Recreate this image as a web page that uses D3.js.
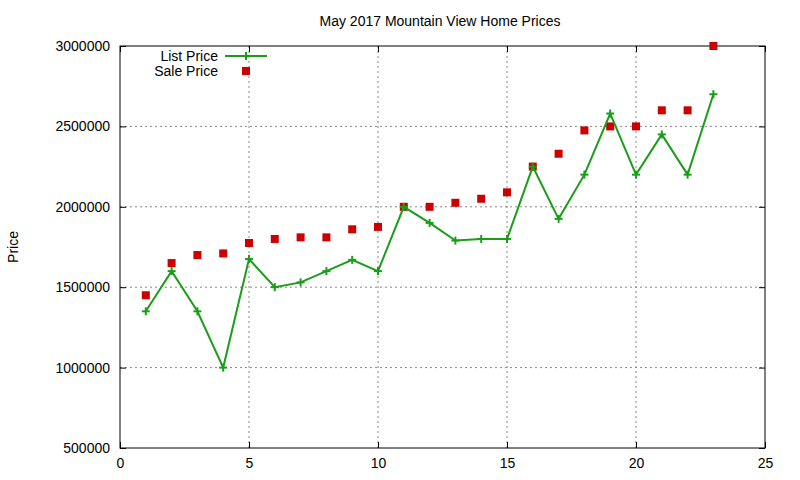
<!DOCTYPE html>
<html><head><meta charset="utf-8">
<script src="https://cdn.jsdelivr.net/npm/d3@7"></script>
<style>body{margin:0;background:#fff}text{font-family:"Liberation Sans",Arial,sans-serif;font-size:14px;fill:#000}</style>
</head><body><svg id="chart" width="800" height="480"></svg>
<script>
const days = d3.range(1, 24)
const list_price = [1350000,1600000,1350000,1000000,1675000,1500000,1530000,1600000,1670000,1600000,2000000,1900000,1790000,1800000,1800000,2250000,1925000,2200000,2580000,2200000,2450000,2200000,2700000]
const sale_price = [1450000,1650000,1700000,1710000,1775000,1800000,1810000,1810000,1860000,1875000,2000000,2000000,2025000,2050000,2090000,2250000,2330000,2475000,2500000,2500000,2600000,2600000,3000000]
const x_ticks = [0,5,10,15,20,25]
const y_ticks = [500000,1000000,1500000,2000000,2500000,3000000]

const svg = d3.select("#chart")
const plot_left = 120, plot_right = 765, plot_top = 46, plot_bottom = 448
const x = d3.scaleLinear().domain([0,25]).range([plot_left,plot_right])
const y = d3.scaleLinear().domain([500000,3000000]).range([plot_bottom,plot_top])

// grid
svg.selectAll(".gx").data(x_ticks.slice(1,-1)).enter().append("line")
	.attr("x1", d => x(d)).attr("x2", d => x(d)).attr("y1", plot_top).attr("y2", plot_bottom)
	.attr("stroke", "#888").attr("stroke-dasharray", "2 3")
svg.selectAll(".gy").data(y_ticks.slice(1,-1)).enter().append("line")
	.attr("x1", plot_left).attr("x2", plot_right).attr("y1", d => y(d)).attr("y2", d => y(d))
	.attr("stroke", "#888").attr("stroke-dasharray", "2 3")

// axes, ticks inward like gnuplot
svg.append("g").attr("transform", `translate(0,${plot_bottom})`)
	.call(d3.axisBottom(x).tickValues(x_ticks).tickSizeInner(-6).tickSizeOuter(0).tickPadding(10))
svg.append("g").attr("transform", `translate(${plot_left},0)`)
	.call(d3.axisLeft(y).tickValues(y_ticks).tickFormat(d3.format("d")).tickSizeInner(-6).tickSizeOuter(0).tickPadding(10))
svg.append("g").attr("transform", `translate(0,${plot_top})`)
	.call(d3.axisTop(x).tickValues(x_ticks).tickSizeInner(-6).tickSizeOuter(0).tickFormat(""))
svg.append("g").attr("transform", `translate(${plot_right},0)`)
	.call(d3.axisRight(y).tickValues(y_ticks).tickSizeInner(-6).tickSizeOuter(0).tickFormat(""))
svg.selectAll(".domain").remove()
svg.selectAll(".tick text").style("font-size", "14px").style("font-family", "Liberation Sans, Arial")
svg.append("rect").attr("x", plot_left).attr("y", plot_top).attr("width", plot_right-plot_left).attr("height", plot_bottom-plot_top)
	.attr("fill", "none").attr("stroke", "#000")

svg.append("text").attr("x", 440).attr("y", 26).attr("text-anchor", "middle").text("May 2017 Mountain View Home Prices")
svg.append("text").attr("transform", "translate(18,247) rotate(-90)").attr("text-anchor", "middle").text("Price")

const green = "#1a9e1a", red = "#cc0000"
const cross = (g, px, py) => {
	g.append("line").attr("x1", px-4).attr("x2", px+4).attr("y1", py).attr("y2", py).attr("stroke", green).attr("stroke-width", 2)
	g.append("line").attr("x1", px).attr("x2", px).attr("y1", py-4).attr("y2", py+4).attr("stroke", green).attr("stroke-width", 2)
}

// sale price squares
svg.selectAll(".sale").data(sale_price).enter().append("rect")
	.attr("x", (d,i) => x(days[i])-4).attr("y", d => y(d)-4).attr("width", 8).attr("height", 8).attr("fill", red)

// list price line
svg.append("path").datum(list_price)
	.attr("d", d3.line().x((d,i) => x(days[i])).y(d => y(d)))
	.attr("fill", "none").attr("stroke", green).attr("stroke-width", 2)
const marks = svg.append("g")
list_price.forEach((d,i) => cross(marks, x(days[i]), y(d)))

// legend
svg.append("text").attr("x", 218).attr("y", 61).attr("text-anchor", "end").text("List Price")
svg.append("line").attr("x1", 225).attr("x2", 267).attr("y1", 56).attr("y2", 56).attr("stroke", green).attr("stroke-width", 2)
cross(svg, 246, 56)
svg.append("text").attr("x", 218).attr("y", 76).attr("text-anchor", "end").text("Sale Price")
svg.append("rect").attr("x", 242).attr("y", 67).attr("width", 8).attr("height", 8).attr("fill", red)
</script></body></html>
